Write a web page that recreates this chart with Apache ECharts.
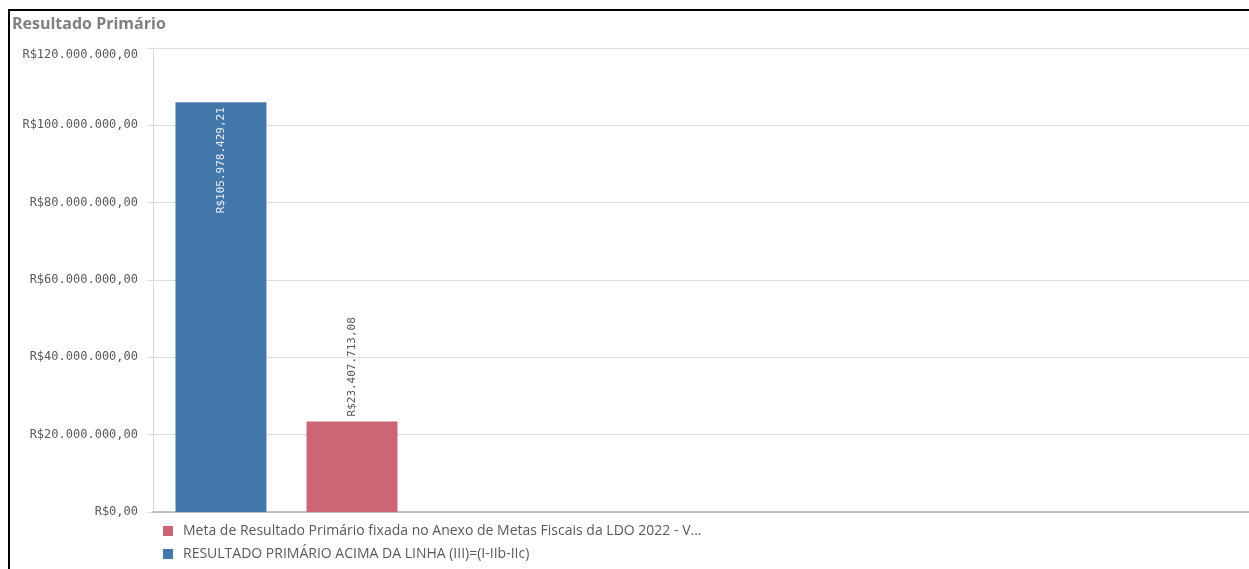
<!DOCTYPE html>
<html><head><meta charset="utf-8">
<script src="https://cdn.jsdelivr.net/npm/echarts@6/dist/echarts.min.js"></script>
<style>
html,body{margin:0;padding:0;background:#fff;}
#frame{position:absolute;left:8px;top:9px;width:1241px;height:560px;border-top:2px solid #000;border-left:2px solid #000;box-sizing:border-box;}
#c{position:absolute;left:0;top:0;width:1249px;height:569px;}
</style></head>
<body>
<div id="c"></div>
<div id="frame"></div>
<script>
const titleText = 'Resultado Primário';
const categories = ['Resultado Primário'];
const seriesNames = ['RESULTADO PRIMÁRIO ACIMA DA LINHA (III)=(I-IIb-IIc)', 'Meta de Resultado Primário fixada no Anexo de Metas Fiscais da LDO 2022 - V...'];
const legendOrder = ['Meta de Resultado Primário fixada no Anexo de Metas Fiscais da LDO 2022 - V...', 'RESULTADO PRIMÁRIO ACIMA DA LINHA (III)=(I-IIb-IIc)'];
const resultadoValues = [105978429.21];
const metaValues = [23407713.08];
const yMin = 0, yMax = 120000000, yStep = 20000000;

function brl(v){
  const neg = v < 0; v = Math.abs(v);
  const parts = v.toFixed(2).split('.');
  const intPart = parts[0].replace(/\B(?=(\d{3})+(?!\d))/g, '.');
  return (neg ? '-' : '') + 'R$' + intPart + ',' + parts[1];
}

const chart = echarts.init(document.getElementById('c'));
const mono = '"DejaVu Sans Mono", monospace';
chart.setOption({
  animation: false,
  title: { text: titleText, left: 7, top: 11, textStyle: { fontFamily: '"Open Sans", sans-serif', fontSize: 16, fontWeight: 'bold', color: '#808080' } },
  legend: {
    orient: 'vertical', left: 158, top: 519, itemWidth: 10, itemHeight: 10, itemGap: 9,
    icon: 'rect', data: legendOrder,
    textStyle: { fontFamily: '"Open Sans", sans-serif', fontSize: 14, color: '#595959', padding: [0, 0, 0, 5] }
  },
  grid: [
    { left: 153, right: 0, top: 48, bottom: 57 },
    { left: 153, width: 267, top: 48, bottom: 57 }
  ],
  xAxis: [
    { gridIndex: 0, type: 'category', data: [''], axisLine: { show: true, lineStyle: { color: '#b0b0b0', width: 1.5 } }, axisTick: { show: false }, axisLabel: { show: false } },
    { gridIndex: 1, type: 'category', data: categories, show: false }
  ],
  yAxis: [
    { gridIndex: 0, type: 'value', min: yMin, max: yMax, interval: yStep,
      axisLine: { show: true, lineStyle: { color: '#d9d9d9' } },
      axisTick: { show: true, length: 6, lineStyle: { color: '#d9d9d9' } },
      splitLine: { lineStyle: { color: '#dcdcdc' } },
      axisLabel: { formatter: v => v === yMax ? '{top|' + brl(v) + '}' : brl(v), margin: 15, fontFamily: mono, fontSize: 12, color: '#595959',
        rich: { top: { padding: [14, 0, 0, 0], fontFamily: mono, fontSize: 12, color: '#595959' } } } },
    { gridIndex: 1, type: 'value', min: yMin, max: yMax, interval: yStep, show: false, splitLine: { show: false } }
  ],
  series: [
    { name: seriesNames[0], type: 'bar', xAxisIndex: 1, yAxisIndex: 1, data: resultadoValues,
      barWidth: 91, barGap: '44%', itemStyle: { color: '#4477AA' },
      label: { show: true, position: 'insideTop', rotate: 90, align: 'right', verticalAlign: 'middle', distance: 5,
        formatter: p => brl(p.value), fontFamily: mono, fontSize: 11, color: '#e8eef5' } },
    { name: seriesNames[1], type: 'bar', xAxisIndex: 1, yAxisIndex: 1, data: metaValues,
      barWidth: 91, itemStyle: { color: '#CC6677' },
      label: { show: true, position: 'top', rotate: 90, align: 'left', verticalAlign: 'middle', distance: 5,
        formatter: p => brl(p.value), fontFamily: mono, fontSize: 11, color: '#595959' } }
  ]
});
</script>
</body></html>
